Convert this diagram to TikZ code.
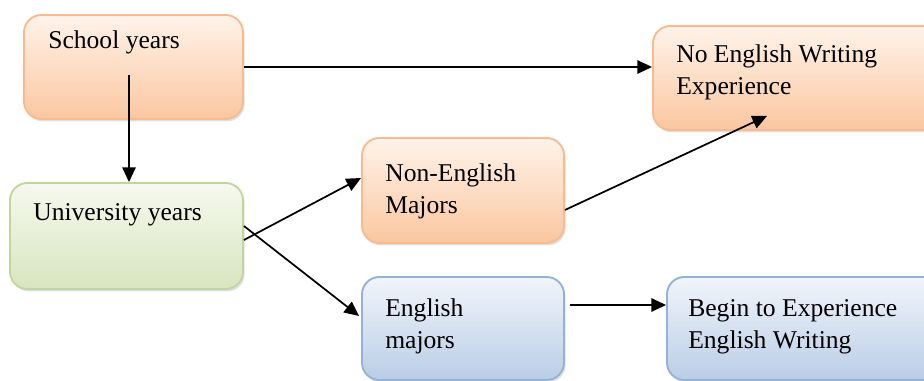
\documentclass[tikz,border=0pt]{standalone}
\usepackage{fontspec}
\setmainfont{Liberation Serif}
\usepackage{xcolor}
\usepackage{tikz}
\usetikzlibrary{shapes}
\usetikzlibrary{calc}
\usetikzlibrary{shadows}
\usetikzlibrary{arrows.meta}
\definecolor{orange_top}{HTML}{FFF3EA}
\definecolor{orange_bot}{HTML}{FAC7A0}
\definecolor{orange_line}{HTML}{F8BA8E}
\definecolor{green_top}{HTML}{F5F9EE}
\definecolor{green_bot}{HTML}{D8E5BF}
\definecolor{green_line}{HTML}{C2D59C}
\definecolor{blue_top}{HTML}{F1F5FB}
\definecolor{blue_bot}{HTML}{BACDE6}
\definecolor{blue_line}{HTML}{94B2D6}
\tikzset{ stage_box/.style = {rectangle, rounded corners=13pt, line width=1.4pt, inner sep=0pt,
    drop shadow={shadow xshift=1.2pt, shadow yshift=-1.8pt, fill=black!35, opacity=0.35}} }
\tikzset{ orange_box/.style = {stage_box, draw=orange_line, top color=orange_top, bottom color=orange_bot} }
\tikzset{ green_box/.style = {stage_box, draw=green_line, top color=green_top, bottom color=green_bot} }
\tikzset{ blue_box/.style = {stage_box, draw=blue_line, top color=blue_top, bottom color=blue_bot} }
\tikzset{ box_txt/.style = {anchor=base west, align=left, inner sep=0pt, font=\fontsize{19.2}{24}\selectfont} }
\tikzset{ flow/.style = {line width=1.3pt, -{Triangle[length=11pt, width=10pt]}} }

\begin{document}
\begin{tikzpicture}[x=0.75pt, y=-0.75pt]
        \useasboundingbox (0,0) rectangle (924,381);
        \begin{scope}
        \clip (0,0) rectangle (924,381);
        % boxes
        \node[orange_box, minimum width=219*0.75pt, minimum height=104*0.75pt] (school) at (133.5,67) {};
        \node[green_box, minimum width=233*0.75pt, minimum height=106*0.75pt] (univ) at (126.5,236) {};
        \node[orange_box, minimum width=202*0.75pt, minimum height=105*0.75pt] (non_eng) at (463,190.5) {};
        \node[blue_box, minimum width=202*0.75pt, minimum height=103*0.75pt] (eng) at (463,328.5) {};
        \node[orange_box, minimum width=290*0.75pt, minimum height=104*0.75pt] (no_exp) at (798,78) {};
        \node[blue_box, minimum width=282*0.75pt, minimum height=103*0.75pt] (begin_exp) at (808,328.5) {};
        % texts (base = last line)
        \node[box_txt] (school_txt) at (48,49) {School years};
        \node[box_txt] (univ_txt) at (33,220) {University years};
        \node[box_txt] (non_eng_txt) at (385,213) {Non-English\\Majors};
        \node[box_txt] (eng_txt) at (385,348) {English\\majors};
        \node[box_txt] (no_exp_txt) at (676,95) {No English Writing\\Experience};
        \node[box_txt] (begin_exp_txt) at (688,348) {Begin to Experience\\English Writing};
        % arrows
        \coordinate (school_down) at (129,75);
        \coordinate (eng_out) at ([shift={(5,-23.5)}]eng.east);
        \draw[flow] (school_down) -- (school_down |- univ.north);
        \draw[flow] (school.east) -- (school.east -| no_exp.west);
        \draw[flow] ([shift={(0,4)}]univ.east) -- ([shift={(0,-12.5)}]non_eng.west);
        \draw[flow] ([shift={(0,-10)}]univ.east) -- ([shift={(-2,-12.5)}]eng.west);
        \draw[flow] ([shift={(0,19.5)}]non_eng.east) -- ([shift={(-31,-15)}]no_exp.south);
        \draw[flow] (eng_out) -- (eng_out -| begin_exp.west);
        \end{scope}
    \end{tikzpicture}
\end{document}
